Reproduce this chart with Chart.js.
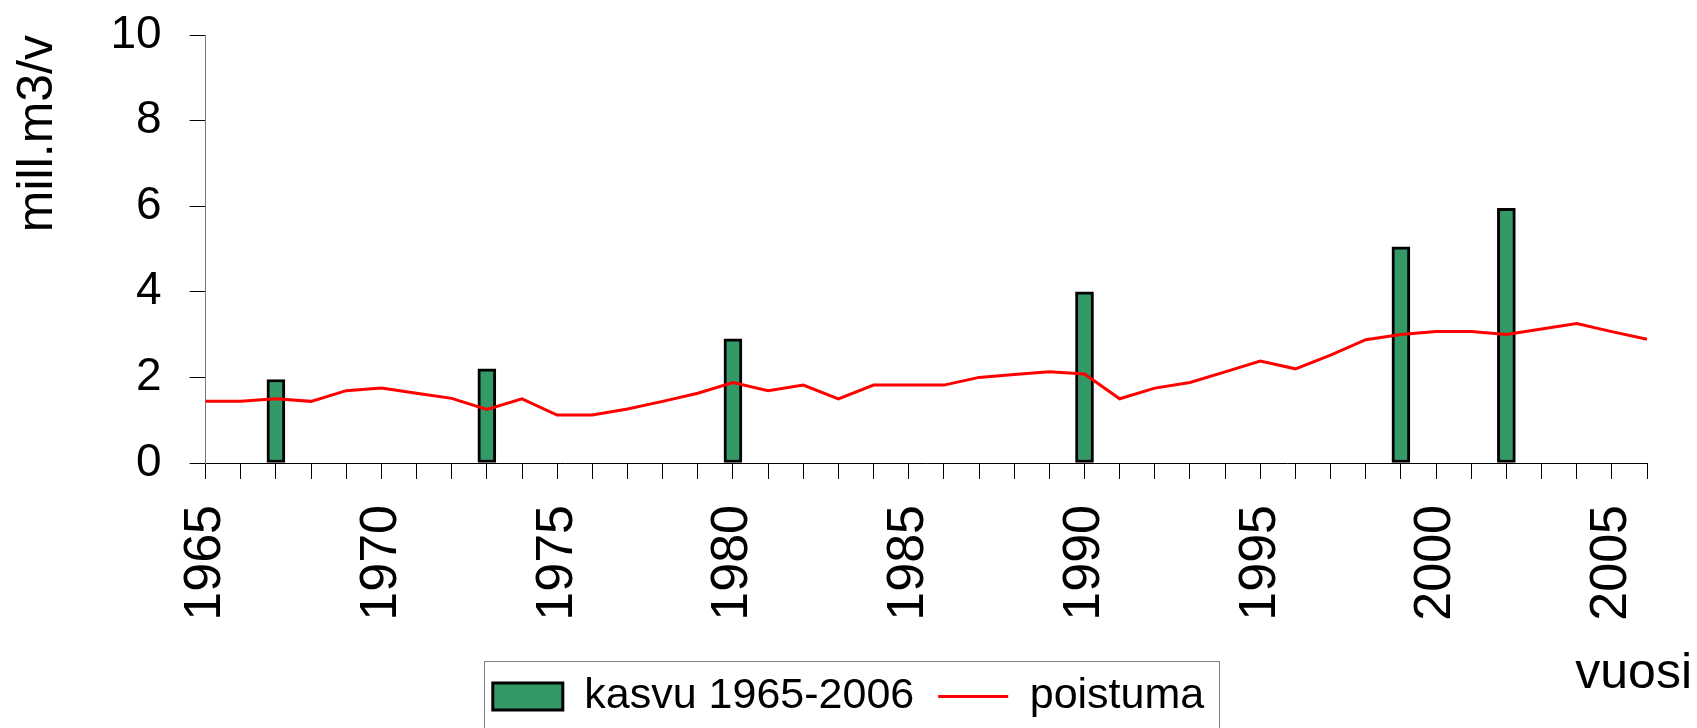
<!DOCTYPE html>
<html>
<head>
<meta charset="utf-8">
<title>kasvu / poistuma</title>
<script src="https://cdn.jsdelivr.net/npm/chart.js@4.4.1/dist/chart.umd.min.js"></script>
<style>
  html, body { margin:0; padding:0; background:#fff; }
  #wrap { width:1697px; height:728px; position:relative; }
</style>
</head>
<body>
<div id="wrap"><canvas id="chart"></canvas></div>
<script>
// --------------------------
// Data
// --------------------------
const years = [
  1965,1966,1967,1968,1969,1970,1971,1972,1973,1974,
  1975,1976,1977,1978,1979,1980,1981,1982,1983,1984,
  1985,1986,1987,1988,1989,1990,1991,1992,1993,1994,
  1995,1996,1997,1998,1999,2000,2001,2002,2003,2004,
  2005,2006
];
const yearLabels = [1965,1970,1975,1980,1985,1990,1995,2000,2005]; // shown on the axis
const kasvu = [
  null,null,1.95,null,null,null,null,null,2.2,null,
  null,null,null,null,null,2.9,null,null,null,null,
  null,null,null,null,null,4.0,null,null,null,null,
  null,null,null,null,5.05,null,null,5.95,null,null,
  null,null
];
const poistuma = [
  1.44,1.44,1.50,1.44,1.69,1.75,1.63,1.51,1.25,1.50,
  1.12,1.12,1.26,1.44,1.63,1.88,1.69,1.82,1.50,1.82,
  1.82,1.82,2.00,2.07,2.13,2.08,1.50,1.75,1.88,2.13,
  2.38,2.20,2.52,2.88,3.00,3.07,3.07,3.00,3.13,3.26,
  3.07,2.89
];
const yTicks = [0,2,4,6,8,10];

(function(){
  const FONT = '"Liberation Sans", Arial, sans-serif';

  // legend frame + "vuosi" text
  const extras = {
    id:'extras',
    afterDraw(chart){
      const ctx = chart.ctx;
      const hb = chart.legend && chart.legend.legendHitBoxes;
      if (hb && hb.length){
        const first = hb[0], last = hb[hb.length-1];
        const l = first.left - 9, r = last.left + last.width + 15, t = first.top - 14;
        ctx.save();
        ctx.strokeStyle = '#808080'; ctx.lineWidth = 1;
        ctx.strokeRect(Math.round(l)+.5, Math.round(t)+.5, Math.round(r-l), chart.height - t + 10);
        ctx.restore();
      }
      ctx.save();
      ctx.font = '50px ' + FONT;
      ctx.fillStyle = '#000';
      ctx.textAlign = 'right';
      ctx.textBaseline = 'alphabetic';
      ctx.fillText('vuosi', chart.width - 5, 688);
      ctx.restore();
    }
  };

  // keep the plot box where the picture has it
  const noPad = s => { s.paddingLeft = s.paddingRight = s.paddingTop = s.paddingBottom = 0; };

  new Chart(document.getElementById('chart'), {
    type:'bar',
    data:{
      labels: years,
      datasets:[
        { type:'bar', label:'kasvu 1965-2006', data:kasvu, order:1,
          backgroundColor:'#339966', borderColor:'#000', borderWidth:3,
          barThickness:18, borderSkipped:false },
        { type:'line', label:'poistuma', data:poistuma, order:0,
          borderColor:'#ff0000', backgroundColor:'#ff0000', borderWidth:3,
          pointRadius:0, tension:0 }
      ]
    },
    options:{
      animation:false, responsive:true, maintainAspectRatio:false,
      layout:{ padding:{ left:50, right:50, top:35, bottom:0 } },
      plugins:{
        tooltip:{ enabled:false },
        legend:{
          position:'bottom',
          labels:{
            font:{ family:FONT, size:43 }, color:'#000',
            usePointStyle:true, pointStyleWidth:70, boxHeight:27, padding:24,
            sort:(a,b)=>a.datasetIndex - b.datasetIndex,
            generateLabels(chart){
              const items = Chart.defaults.plugins.legend.labels.generateLabels(chart);
              items.forEach(it=>{ it.pointStyle = it.datasetIndex === 0 ? 'rect' : 'line'; });
              return items;
            }
          }
        }
      },
      scales:{
        x:{
          offset:false,
          grid:{ offset:false, drawOnChartArea:false, drawTicks:true, tickLength:16, color:'#000', lineWidth:1 },
          border:{ color:'#000', width:1 },
          ticks:{
            autoSkip:false, maxRotation:90, minRotation:90, padding:26,
            color:'#000', font:{ family:FONT, size:52 },
            callback(v, i){ const yr = years[i]; return yearLabels.includes(yr) ? String(yr) : ''; }
          },
          afterFit(s){ s.height = 188; noPad(s); }
        },
        y:{
          min:0, max:10,
          grid:{ drawOnChartArea:false, drawTicks:true, tickLength:16, color:'#000' },
          border:{ color:'#777', width:1 },
          ticks:{
            stepSize:2, padding:28, color:'#000', font:{ family:FONT, size:46 },
            callback:v=>yTicks.includes(v) ? v : ''
          },
          title:{
            display:true, text:'mill.m3/v', align:'end', color:'#000',
            font:{ family:FONT, size:50 }, padding:{ top:-42, bottom:0 }
          },
          afterFit(s){ s.width = 155.6; noPad(s); }
        }
      }
    },
    plugins:[extras]
  });
})();
</script>
</body>
</html>
